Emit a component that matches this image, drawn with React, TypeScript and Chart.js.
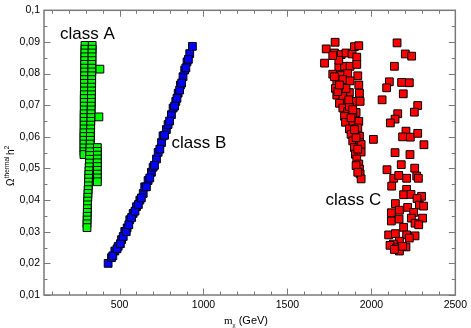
import { useEffect, useRef } from 'react';
import { Chart, registerables } from 'chart.js';

Chart.register(...registerables);

// ---- axes ----
const xMin = 50;
const xMax = 2500;
const yMin = 0.01;
const yMax = 0.1;
const xTicks = [500, 1000, 1500, 2000, 2500];
const xMinorTicks = [100, 200, 300, 400, 600, 700, 800, 900, 1100, 1200, 1300, 1400, 1600, 1700, 1800, 1900, 2100, 2200, 2300, 2400];
const yTicks = [0.01, 0.02, 0.03, 0.04, 0.05, 0.06, 0.07, 0.08, 0.09, 0.1];
const yMinorTicks = [0.015, 0.025, 0.035, 0.045, 0.055, 0.065, 0.075, 0.085, 0.095];

// ---- class A (green) ----
const classAMass = [
  294, 294, 293, 293, 293, 292, 292, 292, 292, 291, 291, 291, 291, 290, 290, 290, 290, 290, 289, 289, 289, 289, 289, 288, 288, 288, 288, 288, 288, 288,
  337, 337, 336, 336, 336, 335, 335, 335, 334, 334, 334, 333, 333, 333, 332, 332, 331, 331, 330, 330, 329, 328, 328, 327, 326, 326, 325, 324, 323, 322,
  321, 320, 319, 318, 317, 316, 315, 314, 313, 312, 311, 310, 309, 308, 308, 307, 307, 306, 306,
  368, 368, 368, 368, 368, 368, 368, 368, 368, 368,
  383, 377,
];
const classAOmega = [
  0.0889, 0.0877, 0.0865, 0.0853, 0.0841, 0.0829, 0.0817, 0.0805, 0.0793, 0.0781, 0.0769, 0.0757, 0.0745, 0.0733, 0.0721, 0.0709, 0.0697, 0.0685, 0.0673, 0.0661, 0.0649, 0.0637, 0.0625, 0.0613, 0.0601, 0.0589, 0.0577, 0.0565, 0.0553, 0.0544,
  0.0889, 0.0877, 0.0865, 0.0853, 0.0841, 0.0829, 0.0817, 0.0805, 0.0793, 0.0781, 0.0769, 0.0757, 0.0745, 0.0733, 0.0721, 0.0709, 0.0697, 0.0685, 0.0673, 0.0661, 0.0649, 0.0637, 0.0625, 0.0613, 0.0601, 0.0589, 0.0577, 0.0565, 0.0553, 0.0541,
  0.0529, 0.0517, 0.0505, 0.0493, 0.0481, 0.0469, 0.0457, 0.0445, 0.0433, 0.0421, 0.0409, 0.0397, 0.0385, 0.0373, 0.0361, 0.0349, 0.0337, 0.0325, 0.0313,
  0.0566, 0.0554, 0.0542, 0.0530, 0.0518, 0.0506, 0.0494, 0.0482, 0.0470, 0.0458,
  0.0814, 0.0663,
];

// ---- class B (blue) ----
const classBMass = [
  432, 452, 472, 492, 512, 531, 545, 561, 581, 601, 621, 641, 650, 670, 690, 700, 720, 730, 750, 759, 779, 789, 809, 819, 835, 849, 863, 878, 888, 902, 918, 934,
  460, 485, 505, 522, 540, 555, 572, 592, 612, 630, 660, 680, 708, 740, 768, 798, 828, 842, 858, 870, 895, 910,
];
const classBOmega = [
  0.0200, 0.0218, 0.0239, 0.0254, 0.0275, 0.0301, 0.0312, 0.0338, 0.0358, 0.0379, 0.0400, 0.0421, 0.0442, 0.0462, 0.0488, 0.0504, 0.0530, 0.0551, 0.0582, 0.0603, 0.0623, 0.0639, 0.0670, 0.0691, 0.0712, 0.0738, 0.0764, 0.0790, 0.0811, 0.0837, 0.0863, 0.0886,
  0.0224, 0.0246, 0.0262, 0.0285, 0.0300, 0.0322, 0.0345, 0.0365, 0.0386, 0.0407, 0.0442, 0.0470, 0.0510, 0.0561, 0.0605, 0.0650, 0.0697, 0.0722, 0.0748, 0.0770, 0.0818, 0.0845,
];

// ---- class C (red) ----
const classCMass = [
  1784, 1731, 1780, 1820, 1849, 1885, 1899, 1925, 1913, 1721, 1806, 1840, 1873, 1913, 1770, 1820, 1859, 1919, 1794, 1830, 1873, 1925, 1786, 1820, 1869, 1929,
  1794, 1830, 1859, 1889, 1933, 1810, 1830, 1859, 1909, 1840, 1889, 1846, 1889, 1925, 1869, 1919, 1879, 1929, 1889, 1929, 1899, 1939, 1905, 1939, 1913, 1925,
  1929, 1933, 1939, 2012,
  1800, 1849, 1869, 1879, 1899, 1909, 1919, 1909, 1919, 1889, 1865, 1810, 1780, 1806, 1770,
  2153, 2202, 2240, 2137, 2107, 2091, 2180, 2226, 2190, 2064, 2276, 2256, 2157, 2141, 2113, 2206, 2186, 2232, 2276, 2313, 2141, 2230, 2178, 2093, 2258, 2133,
  2163, 2210, 2270, 2280, 2121, 2210, 2192, 2236, 2299, 2272, 2143, 2167, 2216, 2286, 2311, 2119, 2252, 2238, 2119, 2165, 2305, 2260, 2282, 2192, 2103, 2143,
  2210, 2260, 2167, 2226, 2131, 2111, 2151, 2206, 2167, 2137, 2186,
];
const classCOmega = [
  0.0899, 0.0878, 0.0865, 0.0860, 0.0865, 0.0862, 0.0885, 0.0888, 0.0852, 0.0833, 0.0821, 0.0823, 0.0823, 0.0829, 0.0798, 0.0795, 0.0800, 0.0793, 0.0774, 0.0781, 0.0777, 0.0764, 0.0753, 0.0753, 0.0740, 0.0738,
  0.0732, 0.0727, 0.0708, 0.0712, 0.0712, 0.0706, 0.0691, 0.0680, 0.0677, 0.0665, 0.0667, 0.0646, 0.0644, 0.0649, 0.0625, 0.0628, 0.0608, 0.0602, 0.0587, 0.0582, 0.0566, 0.0576, 0.0545, 0.0552, 0.0530, 0.0514,
  0.0498, 0.0483, 0.0467, 0.0592,
  0.0743, 0.0753, 0.0696, 0.0660, 0.0623, 0.0597, 0.0561, 0.0509, 0.0488, 0.0686, 0.0717, 0.0764, 0.0790, 0.0842, 0.0857,
  0.0897, 0.0862, 0.0855, 0.0823, 0.0774, 0.0755, 0.0772, 0.0771, 0.0736, 0.0717, 0.0699, 0.0678, 0.0673, 0.0656, 0.0644, 0.0618, 0.0600, 0.0599, 0.0611, 0.0575, 0.0550, 0.0544, 0.0512, 0.0496, 0.0501, 0.0469,
  0.0478, 0.0469, 0.0476, 0.0469, 0.0444, 0.0434, 0.0417, 0.0418, 0.0412, 0.0405, 0.0389, 0.0368, 0.0377, 0.0384, 0.0381, 0.0360, 0.0361, 0.0343, 0.0334, 0.0340, 0.0343, 0.0327, 0.0322, 0.0314, 0.0290, 0.0294,
  0.0290, 0.0287, 0.0270, 0.0280, 0.0261, 0.0257, 0.0249, 0.0252, 0.0239, 0.0244, 0.0254,
];

// ---- annotations ----
const classLabels = ['class A', 'class B', 'class C'];
const classLabelMass = [145, 809, 1727];
const classLabelOmega = [0.0909, 0.0566, 0.0385];

const toPoints = (xs: number[], ys: number[]) => xs.map((x, i) => ({ x, y: ys[i] }));

const FRAME = '#7a7a7a';
const SANS = '"Liberation Sans", Arial, sans-serif';
const SERIF = '"Liberation Serif", "Times New Roman", serif';

const decorPlugin = {
  id: 'decor',
  afterDatasetsDraw(chart: any) {
    const { ctx, chartArea: a, scales } = chart;
    const xs = scales.x;
    const ys = scales.y;
    ctx.save();
    // ticks on all four sides, pointing inward
    ctx.strokeStyle = FRAME;
    ctx.lineWidth = 1;
    ctx.beginPath();
    const xt = (vals: number[], len: number) => {
      vals.forEach((v) => {
        const p = Math.round(xs.getPixelForValue(v)) + 0.5;
        ctx.moveTo(p, a.bottom);
        ctx.lineTo(p, a.bottom - len);
        ctx.moveTo(p, a.top);
        ctx.lineTo(p, a.top + len);
      });
    };
    const yt = (vals: number[], len: number) => {
      vals.forEach((v) => {
        const p = Math.round(ys.getPixelForValue(v)) + 0.5;
        ctx.moveTo(a.left, p);
        ctx.lineTo(a.left + len, p);
        ctx.moveTo(a.right, p);
        ctx.lineTo(a.right - len, p);
      });
    };
    xt(xTicks, 6.5);
    xt(xMinorTicks, 3.5);
    yt(yTicks, 6.5);
    yt(yMinorTicks, 3.5);
    ctx.stroke();
    // frame
    ctx.lineWidth = 1.5;
    ctx.strokeRect(a.left, a.top, a.right - a.left, a.bottom - a.top);

    // class labels
    ctx.fillStyle = '#000';
    ctx.font = `17px ${SANS}`;
    ctx.textAlign = 'left';
    ctx.textBaseline = 'alphabetic';
    classLabels.forEach((t, i) => {
      ctx.fillText(t, xs.getPixelForValue(classLabelMass[i]), ys.getPixelForValue(classLabelOmega[i]));
    });

    // x title: m_chi (GeV)
    const bx = 246;
    const by = 324;
    ctx.font = `11px ${SERIF}`;
    const wm = ctx.measureText('m').width;
    ctx.font = `7px ${SERIF}`;
    const wc = ctx.measureText('χ').width;
    ctx.font = `11px ${SANS}`;
    const wg = ctx.measureText(' (GeV)').width;
    let x0 = bx - (wm + wc + wg) / 2;
    ctx.font = `11px ${SERIF}`;
    ctx.fillText('m', x0, by);
    x0 += wm;
    ctx.font = `7px ${SERIF}`;
    ctx.fillText('χ', x0, by + 2.5);
    x0 += wc;
    ctx.font = `11px ${SANS}`;
    ctx.fillText(' (GeV)', x0, by);

    // y title: Omega^thermal h^2
    ctx.translate(13.5, 186);
    ctx.rotate(-Math.PI / 2);
    let w = 0;
    ctx.font = `10px ${SANS}`;
    ctx.fillText('Ω', w, 0);
    w += ctx.measureText('Ω').width + 0.3;
    ctx.font = `6.5px ${SANS}`;
    ctx.fillText('thermal', w, -4.5);
    w += ctx.measureText('thermal').width + 1.5;
    ctx.font = `10px ${SANS}`;
    ctx.fillText('h', w, 0);
    w += ctx.measureText('h').width + 0.3;
    ctx.font = `6.5px ${SANS}`;
    ctx.fillText('2', w, -4.5);
    ctx.restore();
  },
};

const fmt = (v: number) => String(Number(v.toFixed(3))).replace('.', ',');

export default function App() {
  const ref = useRef<HTMLCanvasElement | null>(null);
  useEffect(() => {
    if (!ref.current) return;
    const pointStyle = {
      pointStyle: 'rect' as const,
      pointRadius: 5.5,
      pointHoverRadius: 5.5,
      borderColor: '#000000',
      borderWidth: 1,
      showLine: false,
    };
    const chart = new Chart(ref.current, {
      type: 'scatter',
      data: {
        datasets: [
          { label: 'class A', data: toPoints(classAMass, classAOmega), backgroundColor: '#00ff00', ...pointStyle },
          { label: 'class B', data: toPoints(classBMass, classBOmega), backgroundColor: '#0000ff', ...pointStyle },
          { label: 'class C', data: toPoints(classCMass, classCOmega), backgroundColor: '#ff0000', ...pointStyle },
        ],
      },
      options: {
        animation: false,
        responsive: false,
        events: [],
        layout: { padding: { top: 6, right: 14, left: 0, bottom: 0 } },
        plugins: { legend: { display: false }, tooltip: { enabled: false } },
        scales: {
          x: {
            type: 'linear',
            min: xMin,
            max: xMax,
            grid: { display: false, drawTicks: false },
            border: { display: false },
            afterBuildTicks: (s: any) => {
              s.ticks = xTicks.map((value) => ({ value }));
            },
            afterFit: (s: any) => {
              s.height = 33;
            },
            ticks: {
              padding: 4,
              maxRotation: 0,
              autoSkip: false,
              color: '#000',
              font: { family: SANS, size: 10.5 },
              callback: (v: any) => String(v),
            },
          },
          y: {
            type: 'linear',
            min: yMin,
            max: yMax,
            grid: { display: false, drawTicks: false },
            border: { display: false },
            afterBuildTicks: (s: any) => {
              s.ticks = yTicks.map((value) => ({ value }));
            },
            afterFit: (s: any) => {
              s.width = 44;
            },
            ticks: {
              padding: 4,
              autoSkip: false,
              color: '#000',
              font: { family: SANS, size: 10.5 },
              callback: (v: any) => fmt(Number(v)),
            },
          },
        },
      },
      plugins: [decorPlugin],
    } as any);
    return () => chart.destroy();
  }, []);
  return (
    <div style={{ position: 'absolute', left: 0, top: 0, width: 471, height: 328, background: '#fff' }}>
      <canvas ref={ref} width={471} height={328} style={{ display: 'block', width: 471, height: 328 }} />
    </div>
  );
}
